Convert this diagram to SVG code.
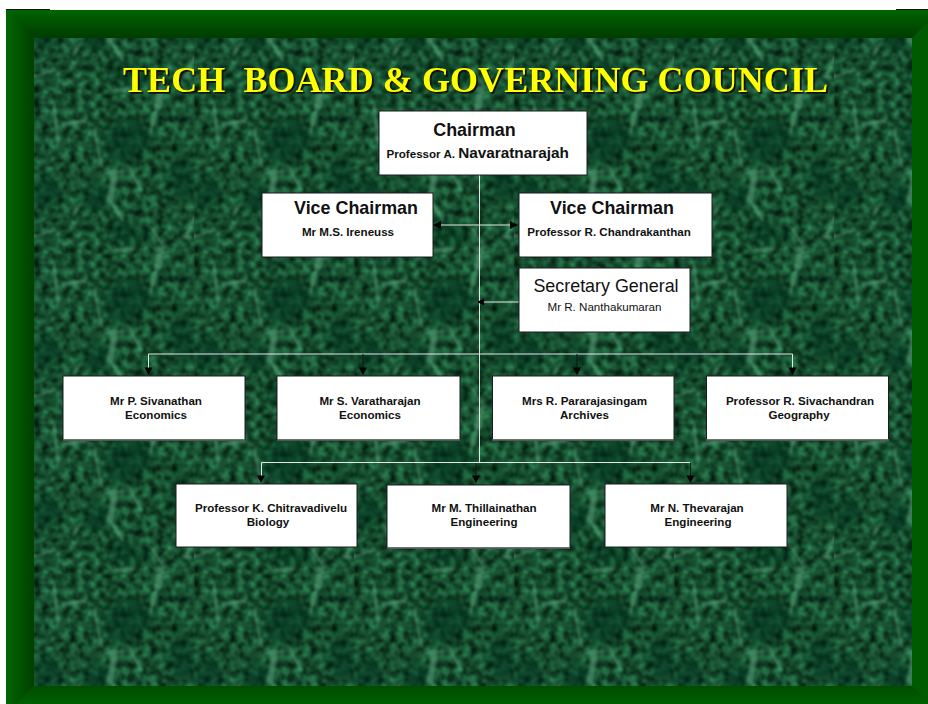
<svg xmlns="http://www.w3.org/2000/svg" width="928" height="704" viewBox="0 0 928 704">
<style>
.box{fill:#fff;stroke:#1c1c1c;stroke-width:1}
.sh{stroke:#666;stroke-width:1.5;fill:none}
text{font-family:"Liberation Sans",Arial,sans-serif;text-anchor:middle;fill:#111}
.h{font-size:17.9px;font-weight:700}
.n{font-size:11.6px;font-weight:700}
.c{fill:none;stroke:#e4e8e4;stroke-width:1}
.d{fill:none;stroke:#0a1a0a;stroke-width:1}
.t{font-family:"Liberation Serif","Times New Roman",serif;font-size:36px;font-weight:700;text-anchor:start;white-space:pre}
</style>
<defs>
<linearGradient id="gt" x1="0" y1="0" x2="0" y2="1"><stop offset="0" stop-color="#006400"/><stop offset="1" stop-color="#003c00"/></linearGradient>
<linearGradient id="gl" x1="0" y1="0" x2="1" y2="0"><stop offset="0" stop-color="#006600"/><stop offset="1" stop-color="#004000"/></linearGradient>
<linearGradient id="gb" x1="0" y1="0" x2="0" y2="1"><stop offset="0" stop-color="#004c00"/><stop offset="1" stop-color="#006000"/></linearGradient>
<filter id="ds" x="-2%" y="-20%" width="104%" height="140%" color-interpolation-filters="sRGB"><feDropShadow dx="1.6" dy="1.6" stdDeviation="0.2" flood-color="#0c0c00"/></filter>
<filter id="mottle" x="0" y="0" width="100%" height="100%" color-interpolation-filters="sRGB">
<feTurbulence type="fractalNoise" baseFrequency="0.14" numOctaves="3" seed="11" stitchTiles="stitch"/>
<feColorMatrix type="matrix" values="0 0 0 0.28 -0.05  0 0 0 0.72 -0.05  0 0 0 0.48 -0.05  0 0 0 0 1"/>
<feGaussianBlur stdDeviation="0.8"/>
</filter>
<filter id="soft" x="-30%" y="-30%" width="160%" height="160%"><feGaussianBlur stdDeviation="1.7"/></filter>
<filter id="softer" x="-40%" y="-40%" width="180%" height="180%"><feGaussianBlur stdDeviation="7"/></filter>
<pattern id="tile" width="160" height="160" patternUnits="userSpaceOnUse" x="34" y="94">
<rect width="160" height="160" fill="#1a5530"/>
<rect width="160" height="160" filter="url(#mottle)"/>
<g fill="#06301a" opacity=".6" filter="url(#softer)">
<ellipse cx="93" cy="46" rx="24" ry="22"/><ellipse cx="63" cy="103" rx="16" ry="14"/><ellipse cx="93" cy="139" rx="22" ry="10"/><ellipse cx="12" cy="99" rx="14" ry="18"/><ellipse cx="148" cy="85" rx="14" ry="22"/>
</g>
<g fill="none" stroke="#5aa67e" stroke-linecap="round" filter="url(#soft)" opacity=".6">
<path stroke-width="4" d="M30 30L50 27"/>
<path stroke-width="2.500" d="M60 36L68 73M95 73L107 96M117 133L130 153M20 10L24 50M152 142L162 122M0 143L20 136M40 120L46 110"/>
<path stroke-width="3.500" d="M127 0L117 36M150 142L156 143M82 156L98 156M-8 143L2 142"/>
<path stroke-width="7" d="M80 82L76 106M126 0L124 12M126 156L128 160"/>
<path stroke-width="3" d="M72 79L90 77M76 106L88 125"/>
</g>
</pattern>
</defs>
<rect width="928" height="704" fill="#fff"/>
<rect x="6" y="9" width="44" height="1.200" fill="#111"/>
<rect x="896" y="9" width="32" height="1.200" fill="#111"/>
<g id="frame">
<rect x="6" y="10" width="922" height="694" fill="#005a00"/>
<polygon points="6,10 928,10 928,22 912,38 34,38" fill="url(#gt)"/>
<polygon points="6,10 34,38 34,686 16,704 6,704" fill="url(#gl)"/>
<polygon points="34,686 912,686 930,704 16,704" fill="url(#gb)"/>
</g>
<rect id="panel" x="34" y="38" width="878" height="648" fill="url(#tile)"/>
<g id="title">
<text class="t" x="123" y="91.500" style="fill:#ffff00" textLength="705" filter="url(#ds)">TECH  BOARD &amp; GOVERNING COUNCIL</text>
</g>
<g id="connectors">
<path class="c" d="M479.500 174V463"/>
<path class="c" d="M148.500 368V354H792.500V368"/>
<path class="c" d="M261.500 476V462.500H690"/>
<path class="c" stroke-width="1.500" d="M441 225H512"/>
<path class="c" d="M519 302H484"/>
<path class="d" d="M363 354V368M577 354V368M476 463V476M690.500 463V476"/>
<g fill="#000">
<polygon points="433,225 441,221 441,229"/><polygon points="518,225 510,221 510,229"/>
<polygon points="477,302 484,298.500 484,305.500"/>
<polygon points="148.500,375 144.500,367.500 152.500,367.500"/><polygon points="363,375 359,367.500 367,367.500"/><polygon points="577,375 573,367.500 581,367.500"/><polygon points="792.500,375 788.500,367.500 796.500,367.500"/>
<polygon points="261,483 257,475.500 265,475.500"/><polygon points="476,483 472,475.500 480,475.500"/><polygon points="690.500,483 686.500,475.500 694.500,475.500"/>
</g>
</g>
<g id="chairman"><rect class="box" x="379" y="111" width="208" height="64"/><text class="h" x="474.500" y="136">Chairman</text><text x="386.500" y="158" style="text-anchor:start;font-size:11.600px;font-weight:700">Professor A. <tspan font-size="15.300">Navaratnarajah</tspan></text></g>
<g id="vice1"><rect class="box" x="262" y="193" width="171" height="64"/><text class="h" x="356" y="214">Vice Chairman</text><text class="n" x="348" y="236">Mr M.S. Ireneuss</text></g>
<g id="vice2"><rect class="box" x="519" y="193" width="193" height="64"/><text class="h" x="612" y="214">Vice Chairman</text><text class="n" x="609" y="236">Professor R. Chandrakanthan</text></g>
<g id="secretary"><rect class="box" x="519" y="268" width="171" height="64"/><text x="606" y="292" style="font-size:17.900px">Secretary General</text><text x="604.500" y="311" style="font-size:11.600px">Mr R. Nanthakumaran</text></g>
<g id="m1"><rect class="box" x="63" y="376" width="182" height="64"/><path class="sh" d="M63 440H245"/><text class="n" x="156" y="405">Mr P. Sivanathan</text><text class="n" x="156" y="419">Economics</text></g>
<g id="m2"><rect class="box" x="277" y="376" width="183" height="64"/><path class="sh" d="M277 440H460"/><text class="n" x="370" y="405">Mr S. Varatharajan</text><text class="n" x="370" y="419">Economics</text></g>
<g id="m3"><rect class="box" x="492.500" y="376" width="181.500" height="64"/><path class="sh" d="M492 440H674"/><text class="n" x="584.500" y="405">Mrs R. Pararajasingam</text><text class="n" x="584.500" y="419">Archives</text></g>
<g id="m4"><rect class="box" x="706.500" y="376" width="182" height="64"/><path class="sh" d="M706 440H889"/><text class="n" x="800" y="405">Professor R. Sivachandran</text><text class="n" x="799" y="419">Geography</text></g>
<g id="m5"><rect class="box" x="176" y="484" width="181" height="63"/><text class="n" x="271" y="512">Professor K. Chitravadivelu</text><text class="n" x="268" y="526">Biology</text></g>
<g id="m6"><rect class="box" x="387" y="485" width="183" height="63"/><path class="sh" d="M387 548H570"/><text class="n" x="484" y="512">Mr M. Thillainathan</text><text class="n" x="484" y="526">Engineering</text></g>
<g id="m7"><rect class="box" x="605" y="484" width="182" height="63"/><text class="n" x="697" y="512">Mr N. Thevarajan</text><text class="n" x="698" y="526">Engineering</text></g>
</svg>
